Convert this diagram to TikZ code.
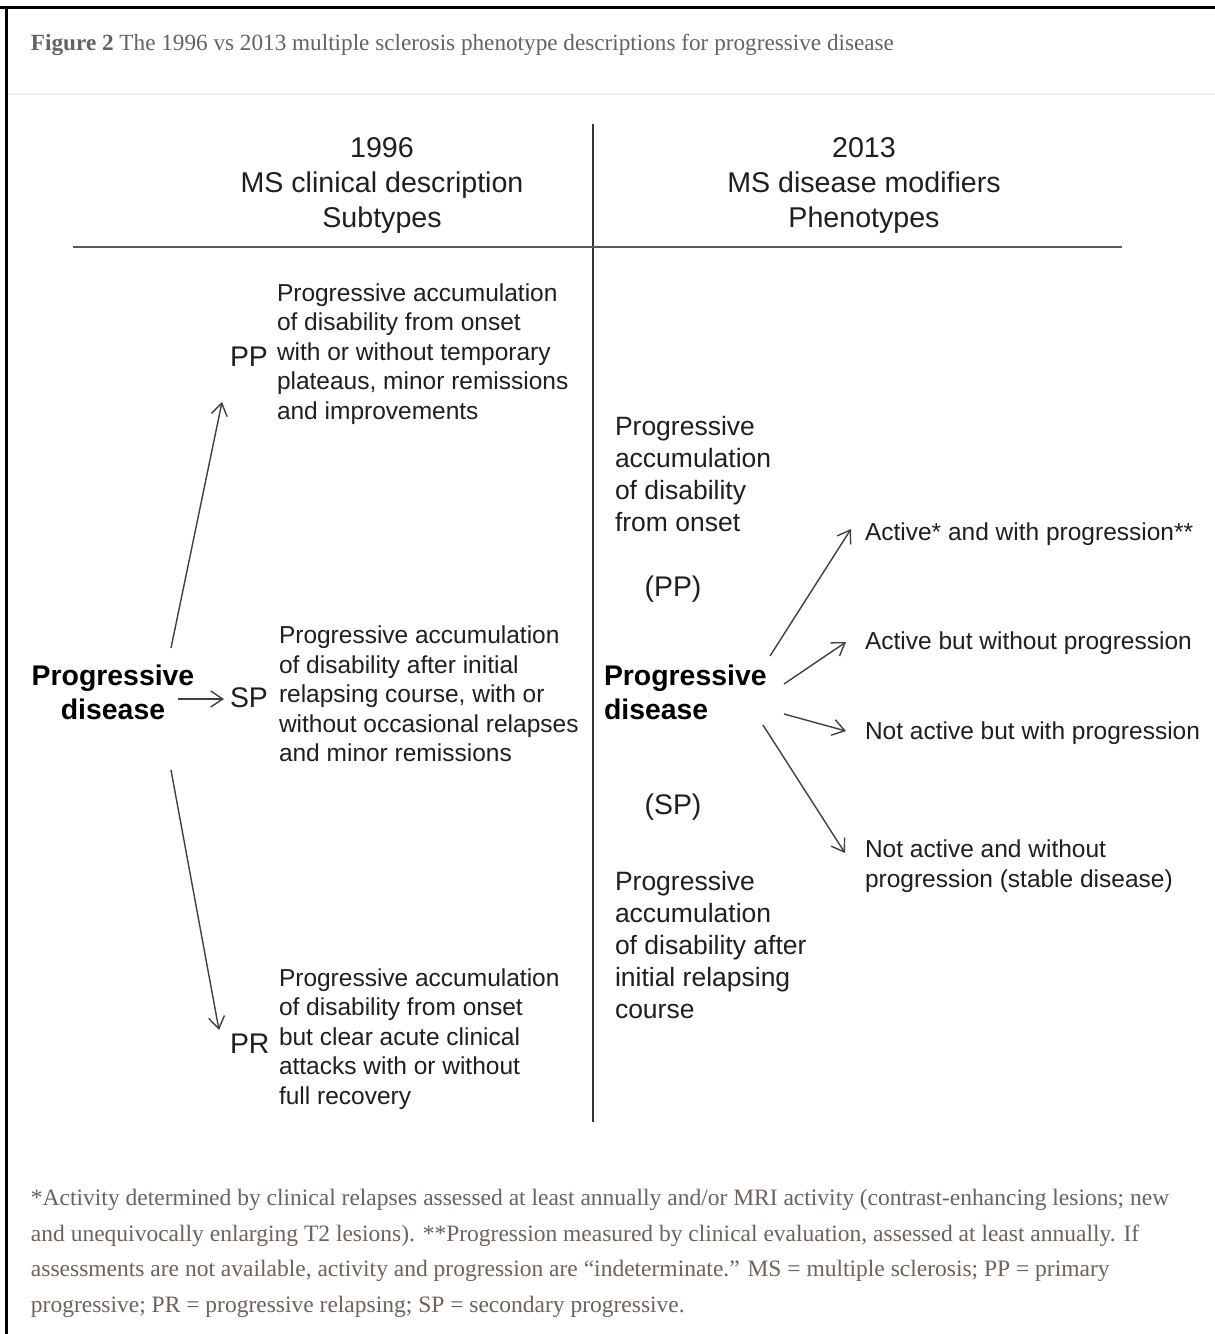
\documentclass[tikz,border=0pt]{standalone}
\usepackage{fontspec}
\setmainfont{Liberation Serif}
\newfontfamily\arial{Liberation Sans}
\usetikzlibrary{arrows.meta}
\definecolor{notec}{HTML}{6E625A}
\definecolor{titlec}{HTML}{666260}
\definecolor{sepc}{HTML}{F1EAE5}
\begin{document}
\begin{tikzpicture}[x=0.5pt,y=-0.5pt,
  every node/.style={inner sep=0pt, outer sep=0pt},
  desc/.style={font=\arial\fontsize{12.25}{14.75}\selectfont, align=left, anchor=west, text=black!88},
  head/.style={font=\arial\fontsize{14.3}{17.5}\selectfont, align=center, text=black!88},
  pdbold/.style={font=\arial\bfseries\fontsize{14.2}{17}\selectfont, text=black},
  rcol/.style={font=\arial\fontsize{13.25}{16}\selectfont, align=left, anchor=west, text=black!88},
  lab/.style={font=\arial\fontsize{14.2}{17}\selectfont, anchor=west, text=black!88},
  arr/.style={-{Straight Barb[length=6pt,width=8pt]}, line width=0.7pt, draw=black!75},
  note/.style={font=\fontsize{11.75}{17.75}\selectfont, text=notec, align=left, anchor=base west},
]
\useasboundingbox (0,0) rectangle (1215,1334);
\fill[white] (0,0) rectangle (1215,1334);
% frame
\fill[black] (0,5.5) rectangle (1215,8.5);
\fill[black] (5,5.5) rectangle (8,1334);
\fill[sepc] (8,93) rectangle (1215,95);

% title
\node[anchor=base west, font=\fontsize{11.6}{13}\selectfont, text=titlec] (title) at (31,50)
  {\textbf{Figure 2} The 1996 vs 2013 multiple sclerosis phenotype descriptions for progressive disease};

% dividers
\coordinate (vtop) at (593,124);
\coordinate (vbot) at (593,1122);
\coordinate (hl) at (73,247);
\coordinate (hr) at (1122,247);
\draw[line width=1pt, black!80] (vtop) -- (vbot);
\draw[line width=0.8pt, black!65] (hl) -- (hr);

% headers
\node[head] (h1) at (382,185) {1996\\MS clinical description\\Subtypes};
\node[head] (h2) at (864,185) {2013\\MS disease modifiers\\Phenotypes};

% left column
\node[pdbold, align=center] (lpd) at (113,692) {Progressive\\disease};
\node[lab] (pp) at (230,357) {PP};
\node[lab] (sp) at (230,698) {SP};
\node[lab] (pr) at (230,1044) {PR};
\node[desc] (ppt) at (277,354) {Progressive accumulation\\of disability from onset\\with or without temporary\\plateaus, minor remissions\\and improvements};
\node[desc] (spt) at (279,694) {Progressive accumulation\\of disability after initial\\relapsing course, with or\\without occasional relapses\\and minor remissions};
\node[desc] (prt) at (279,1039) {Progressive accumulation\\of disability from onset\\but clear acute clinical\\attacks with or without\\full recovery};

\coordinate (a1s) at (171,648);
\coordinate (a1e) at (222,402);
\coordinate (a2s) at (178,699);
\coordinate (a2e) at (224,699);
\coordinate (a3s) at (171,770);
\coordinate (a3e) at (219,1030);
\draw[arr] (a1s) -- (a1e);
\draw[arr] (a2s) -- (a2e);
\draw[arr] (a3s) -- (a3e);

% right column
\node[rcol] (rtop) at (615,474) {Progressive\\accumulation\\of disability\\from onset};
\node[lab, anchor=center] (rpp) at (673,589) {(PP)};
\node[pdbold, align=left, anchor=west] (rpd) at (604,692) {Progressive\\disease};
\node[lab, anchor=center] (rsp) at (673,807) {(SP)};
\node[rcol] (rbot) at (615,945) {Progressive\\accumulation\\of disability after\\initial relapsing\\course};

\node[desc] (o1) at (865,534) {Active* and with progression**};
\node[desc] (o2) at (865,643) {Active but without progression};
\node[desc] (o3) at (865,733) {Not active but with progression};
\node[desc] (o4) at (865,866) {Not active and without\\progression (stable disease)};

\coordinate (b1s) at (770,656);
\coordinate (b1e) at (851,529);
\coordinate (b2s) at (784,684);
\coordinate (b2e) at (846,642);
\coordinate (b3s) at (784,714);
\coordinate (b3e) at (846,731);
\coordinate (b4s) at (763,725);
\coordinate (b4e) at (845,853);
\draw[arr] (b1s) -- (b1e);
\draw[arr] (b2s) -- (b2e);
\draw[arr] (b3s) -- (b3e);
\draw[arr] (b4s) -- (b4e);

% footnote
\node[note] (fn) at (31,1312) {*Activity determined by clinical relapses assessed at least annually and/or MRI activity (contrast-enhancing lesions; new\\
and unequivocally enlarging T2 lesions). **Progression measured by clinical evaluation, assessed at least annually. If\\
assessments are not available, activity and progression are “indeterminate.” MS = multiple sclerosis; PP = primary\\
progressive; PR = progressive relapsing; SP = secondary progressive.};
\end{tikzpicture}
\end{document}
